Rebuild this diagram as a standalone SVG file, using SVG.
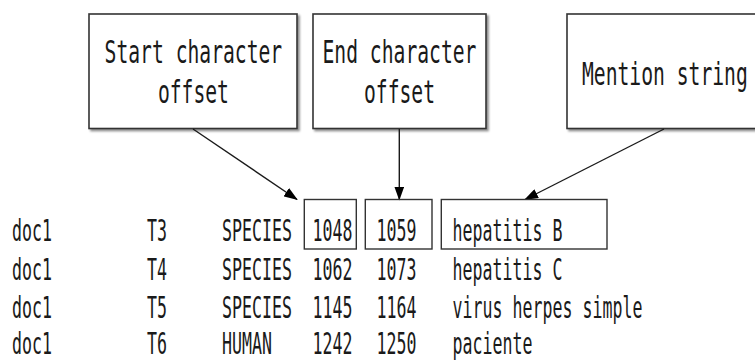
<svg xmlns="http://www.w3.org/2000/svg" width="755" height="361" viewBox="0 0 755 361">
  <style>
    .box { fill: #ffffff; stroke: #333333; stroke-width: 1.6; }
    .cell { fill: none; stroke: #333333; stroke-width: 1.4; }
    .lbl { font-family: "DejaVu Sans Mono", "Liberation Mono", monospace; font-size: 32px; fill: #1a1a1a; }
    .tbl { font-family: "DejaVu Sans Mono", "Liberation Mono", monospace; font-size: 30px; fill: #1a1a1a; }
    .conn { stroke: #1a1a1a; stroke-width: 1.4; fill: none; marker-end: url(#arrow); }
  </style>
  <defs>
    <filter id="shadow" x="-10%" y="-10%" width="120%" height="130%">
      <feDropShadow dx="2" dy="2" stdDeviation="1.2" flood-color="#000000" flood-opacity="0.45"/>
    </filter>
    <marker id="arrow" markerWidth="14" markerHeight="10" refX="13" refY="5" orient="auto" markerUnits="userSpaceOnUse">
      <path d="M0,0 L14,5 L0,10 Z" fill="#000000"/>
    </marker>
  </defs>

  <rect width="755" height="361" fill="#ffffff"/>

  <g id="node-start">
    <rect class="box" x="89" y="14" width="208" height="114.5" filter="url(#shadow)"/>
    <text class="lbl" transform="translate(104.6,63) scale(0.615,1)">Start character</text>
    <text class="lbl" transform="translate(157.9,103) scale(0.615,1)">offset</text>
  </g>

  <g id="node-end">
    <rect class="box" x="313" y="14" width="173" height="114.5" filter="url(#shadow)"/>
    <text class="lbl" transform="translate(322.5,63) scale(0.615,1)">End character</text>
    <text class="lbl" transform="translate(364,103) scale(0.615,1)">offset</text>
  </g>

  <g id="node-mention">
    <rect class="box" x="567" y="14" width="200" height="114.5" filter="url(#shadow)"/>
    <text class="lbl" transform="translate(582,85) scale(0.615,1)">Mention string</text>
  </g>

  <g id="connectors">
    <line class="conn" x1="193" y1="129" x2="297" y2="199.5"/>
    <line class="conn" x1="399.3" y1="129" x2="399.3" y2="199.5"/>
    <line class="conn" x1="664" y1="129" x2="525" y2="199.5"/>
  </g>

  <g id="table">
    <rect class="cell" x="304.3" y="199.5" width="52" height="49.5"/>
    <rect class="cell" x="365.3" y="199.5" width="66.7" height="49.5"/>
    <rect class="cell" x="441.3" y="199.5" width="165.7" height="49.5"/>

    <g id="row1">
      <text class="tbl" transform="translate(12,241) scale(0.5537,1)">doc1</text>
      <text class="tbl" transform="translate(147,241) scale(0.5537,1)">T3</text>
      <text class="tbl" transform="translate(222,241) scale(0.5537,1)">SPECIES</text>
      <text class="tbl" transform="translate(312.5,241) scale(0.5537,1)">1048</text>
      <text class="tbl" transform="translate(376.5,241) scale(0.5537,1)">1059</text>
      <text class="tbl" transform="translate(452.5,241) scale(0.5537,1)">hepatitis B</text>
    </g>
    <g id="row2">
      <text class="tbl" transform="translate(12,279.5) scale(0.5537,1)">doc1</text>
      <text class="tbl" transform="translate(147,279.5) scale(0.5537,1)">T4</text>
      <text class="tbl" transform="translate(222,279.5) scale(0.5537,1)">SPECIES</text>
      <text class="tbl" transform="translate(312.5,279.5) scale(0.5537,1)">1062</text>
      <text class="tbl" transform="translate(376.5,279.5) scale(0.5537,1)">1073</text>
      <text class="tbl" transform="translate(452.5,279.5) scale(0.5537,1)">hepatitis C</text>
    </g>
    <g id="row3">
      <text class="tbl" transform="translate(12,317.5) scale(0.5537,1)">doc1</text>
      <text class="tbl" transform="translate(147,317.5) scale(0.5537,1)">T5</text>
      <text class="tbl" transform="translate(222,317.5) scale(0.5537,1)">SPECIES</text>
      <text class="tbl" transform="translate(312.5,317.5) scale(0.5537,1)">1145</text>
      <text class="tbl" transform="translate(376.5,317.5) scale(0.5537,1)">1164</text>
      <text class="tbl" transform="translate(452.5,317.5) scale(0.5537,1)">virus herpes simple</text>
    </g>
    <g id="row4">
      <text class="tbl" transform="translate(12,354) scale(0.5537,1)">doc1</text>
      <text class="tbl" transform="translate(147,354) scale(0.5537,1)">T6</text>
      <text class="tbl" transform="translate(222,354) scale(0.5537,1)">HUMAN</text>
      <text class="tbl" transform="translate(312.5,354) scale(0.5537,1)">1242</text>
      <text class="tbl" transform="translate(376.5,354) scale(0.5537,1)">1250</text>
      <text class="tbl" transform="translate(452.5,354) scale(0.5537,1)">paciente</text>
    </g>
  </g>
</svg>
